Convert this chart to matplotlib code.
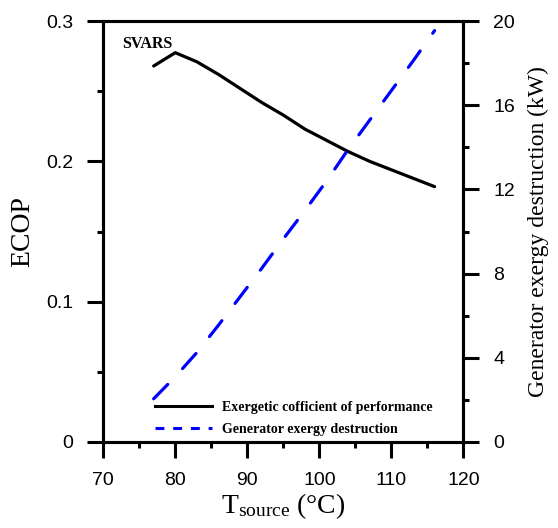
import matplotlib
matplotlib.use("Agg")
import matplotlib.pyplot as plt
from matplotlib.lines import Line2D
from matplotlib.ticker import MultipleLocator, FixedLocator, FuncFormatter

# data
t_source = [77, 80, 83, 86, 89, 92, 95, 98, 101, 104, 107, 110, 113, 116]
ecop = [0.268, 0.2775, 0.271, 0.262, 0.252, 0.242, 0.233, 0.223, 0.215,
        0.207, 0.200, 0.194, 0.188, 0.182]
gen_destruction = [2.05, 3.1, 4.25, 5.55, 6.9, 8.25, 9.65, 11.0, 12.4,
                   13.9, 15.3, 16.7, 18.1, 19.55]

label_ecop = "Exergetic cofficient of performance"
label_gen = "Generator exergy destruction"

serif = "Liberation Serif"
sans = "Liberation Sans"
plt.rcParams["font.family"] = sans
plt.rcParams["mathtext.fontset"] = "custom"
plt.rcParams["mathtext.rm"] = serif
plt.rcParams["mathtext.it"] = serif + ":italic"

fig = plt.figure(figsize=(5.58, 5.28), dpi=100)
ax = fig.add_axes([0.185, 0.163, 0.6455, 0.797])
ax2 = ax.twinx()

ax.plot(t_source, ecop, color="black", lw=2.3, solid_capstyle="round")
ax2.plot(t_source, gen_destruction, color="blue", lw=2.3,
         dashes=(6.3, 6.8), dash_capstyle="round")

ax.set_xlim(70, 120)
ax.set_ylim(0, 0.3)
ax2.set_ylim(0, 20)

ax.xaxis.set_major_locator(MultipleLocator(10))
ax.xaxis.set_minor_locator(MultipleLocator(5))
ax.yaxis.set_major_locator(FixedLocator([0, 0.1, 0.2, 0.3]))
ax.yaxis.set_minor_locator(FixedLocator([0.05, 0.15, 0.25]))
ax.yaxis.set_major_formatter(FuncFormatter(lambda v, p: "0" if v == 0 else "%.1f" % v))
ax2.yaxis.set_major_locator(MultipleLocator(4))
ax2.yaxis.set_minor_locator(MultipleLocator(2))

for a in (ax, ax2):
    for s in a.spines.values():
        s.set_linewidth(2.2)
    a.tick_params(which="major", direction="out", length=11.5, width=2.2,
                  labelsize=14, pad=10)
    a.tick_params(which="minor", direction="out", length=4.5, width=2.2)

ax.set_ylabel("ECOP", fontname=serif, fontsize=20, labelpad=8)
ax2.set_ylabel("Generator exergy destruction (kW)", fontname=serif,
               fontsize=17, labelpad=9)
ax.set_xlabel(r"T$_{\mathrm{source}}$ (°C)", fontname=serif, fontsize=20,
              labelpad=2)

ax.text(72.7, 0.2837, "SVARS", fontname=serif, fontweight="bold",
        fontsize=11.5, va="center", ha="left")

handles = [Line2D([], [], color="black", lw=2.2),
           Line2D([], [], color="blue", lw=2.2, dashes=(2.9, 2.9))]
ax2.legend(handles, [label_ecop, label_gen], loc="lower left",
           bbox_to_anchor=(0.125, -0.002), frameon=False, borderpad=0,
           handlelength=4.1, handletextpad=0.7, labelspacing=0.65,
           prop={"family": serif, "weight": "bold", "size": 10})

fig.savefig("out.png", dpi=100)
